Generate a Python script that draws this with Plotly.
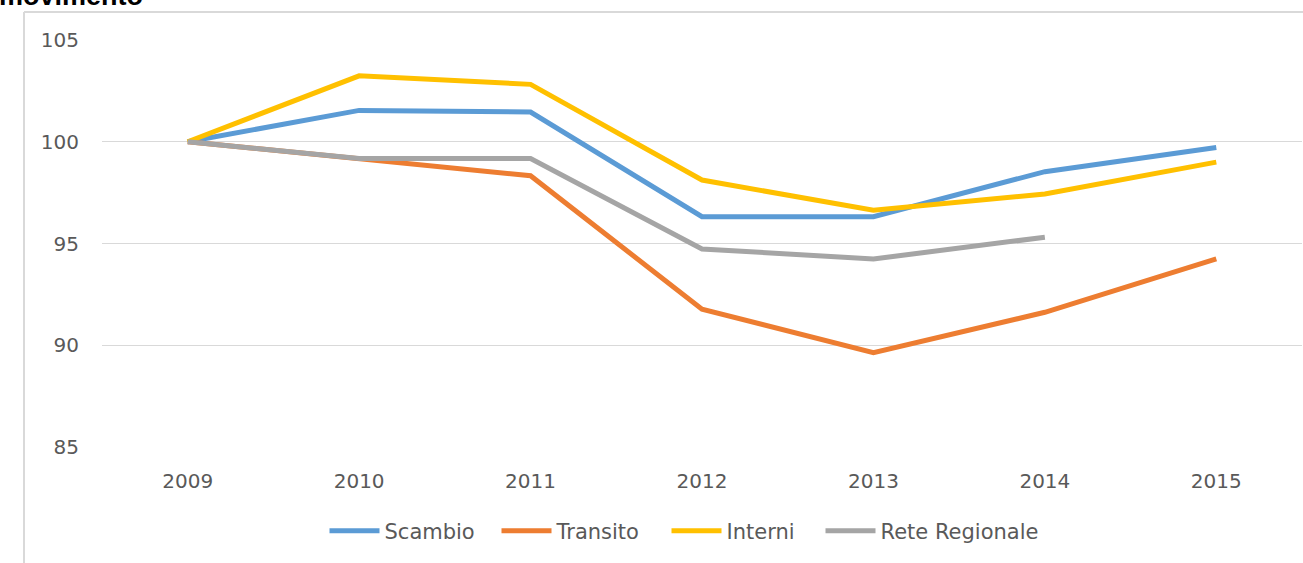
import plotly.graph_objects as go

# Indici (2009 = 100)
anni = ["2009", "2010", "2011", "2012", "2013", "2014", "2015"]
scambio = [100, 101.54, 101.46, 96.32, 96.32, 98.53, 99.72]
transito = [100, 99.15, 98.33, 91.77, 89.64, 91.62, 94.24]
interni = [100, 103.24, 102.82, 98.12, 96.63, 97.43, 99.0]
rete_regionale = [100, 99.18, 99.18, 94.73, 94.24, 95.31, None]

# nome, valori, colore, larghezza della voce di legenda (px, None = automatica)
serie = [
    ("Scambio", scambio, "#5B9BD5", 107),
    ("Transito", transito, "#ED7D31", 105),
    ("Interni", interni, "#FFC000", 89),
    ("Rete Regionale", rete_regionale, "#A5A5A5", None),
]

font_fam = "DejaVu Sans, Open Sans, sans-serif"
grigio_testo = "#595959"
grigio_griglia = "#D9D9D9"

fig = go.Figure()
for nome, valori, colore, lw in serie:
    fig.add_trace(go.Scatter(
        x=anni, y=valori, name=nome, mode="lines",
        line=dict(color=colore, width=5),
        connectgaps=False,
        legendwidth=lw,
    ))

W, H = 1303, 563
L, R, T, B = 102, 1, 40, 116
pw, ph = W - L - R, H - T - B

def px_x(px):
    return (px - L) / pw

def px_y(py):
    return (H - B - py) / ph

fig.update_layout(
    width=W, height=H,
    margin=dict(l=L, r=R, t=T, b=B),
    paper_bgcolor="white", plot_bgcolor="white",
    font=dict(family=font_fam, size=20, color=grigio_testo),
    title=dict(
        text="<b>movimento</b>",
        font=dict(family="Liberation Sans, Arial, sans-serif", size=27, color="black"),
        xref="container", yref="container",
        x=143 / W, xanchor="right",
        y=1 - 5 / H, yanchor="bottom",
    ),
    xaxis=dict(
        type="category", range=[-0.5, 6.5],
        showgrid=False, zeroline=False, showline=False,
        ticks="", ticklabelstandoff=20,
        tickfont=dict(size=20, color=grigio_testo),
    ),
    yaxis=dict(
        range=[85, 105], dtick=5,
        showgrid=True, gridcolor=grigio_griglia, gridwidth=1.3,
        zeroline=False, showline=False,
        ticks="", ticklabelstandoff=22,
        tickfont=dict(size=20, color=grigio_testo),
    ),
    legend=dict(
        orientation="h",
        xref="container", yref="container",
        x=684 / W, xanchor="center",
        y=1 - 531 / H, yanchor="middle",
        itemwidth=50,
        font=dict(size=21, color=grigio_testo),
        bgcolor="rgba(0,0,0,0)",
    ),
    shapes=[
        dict(type="line", xref="paper", yref="paper",
             x0=px_x(24), x1=px_x(24), y0=px_y(H + 5), y1=px_y(12),
             line=dict(color=grigio_griglia, width=2)),
        dict(type="line", xref="paper", yref="paper",
             x0=px_x(24), x1=px_x(W + 5), y0=px_y(12), y1=px_y(12),
             line=dict(color=grigio_griglia, width=2)),
    ],
)

fig.write_html("out.html")
